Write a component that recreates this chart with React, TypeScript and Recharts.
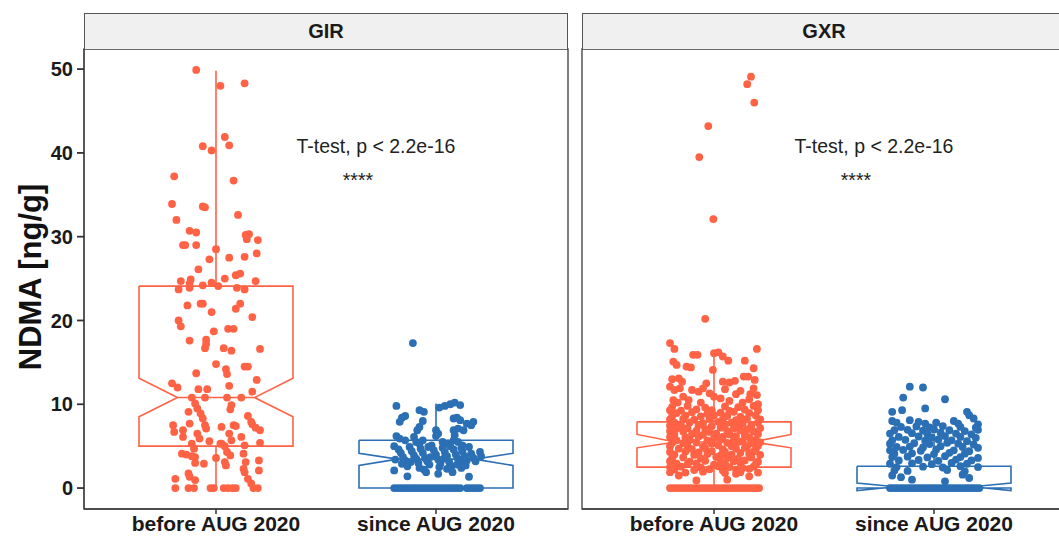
import React from 'react';
import { ComposedChart, Scatter, Line, XAxis, YAxis, ReferenceDot, ReferenceArea } from 'recharts';

const facets = ['GIR', 'GXR'];
const categories = ['before AUG 2020', 'since AUG 2020'];
const yTicks = [0, 10, 20, 30, 40, 50];
const pLabel = 'T-test, p < 2.2e-16';
const sigLabel = '****';
const yTitle = 'NDMA [ng/g]';

const ORANGE = '#FF6244';
const BLUE = '#2B6FB4';

// box stats: [whiskerLow, q1, notchLow, median, notchHigh, q3, whiskerHigh]
const girBeforeBox = [0, 5.0, 8.5, 10.8, 13.1, 24.1, 49.8];
const girSinceBox = [0, 0, 2.7, 3.45, 4.15, 5.7, 10.1];
const gxrBeforeBox = [0, 2.5, 4.8, 5.5, 6.4, 7.9, 15.9];
const gxrSinceBox = [0, 0, -0.3, 0.15, 0.6, 2.6, 6.5];

// points: [jitter offset from category centre, value]
const girBefore: number[][] = [
  [-0.09, 49.9], [0.02, 48.0], [0.13, 48.3], [0.04, 41.9], [-0.06, 40.8], [-0.02, 40.3], [0.06, 40.9],
  [-0.19, 37.2], [0.08, 36.7], [-0.2, 33.9], [-0.06, 33.6], [-0.05, 33.5], [-0.18, 32.0], [0.1, 32.6],
  [-0.12, 30.7], [-0.09, 30.5], [0.135, 30.2], [0.15, 30.3], [0.14, 29.7], [0.19, 29.6], [-0.15, 29.0],
  [-0.14, 29.0], [-0.09, 29.0], [0.0, 28.5], [0.185, 28.0], [-0.03, 27.3], [0.06, 27.5], [0.13, 27.6],
  [-0.08, 26.1], [0.09, 25.4], [0.11, 25.6], [0.04, 25.0], [-0.16, 24.7], [-0.115, 24.9], [-0.12, 24.4],
  [0.18, 24.7], [-0.17, 23.7], [-0.12, 23.9], [-0.06, 24.2], [-0.02, 24.5], [0.01, 24.1], [0.095, 23.9],
  [0.13, 23.7], [-0.07, 22.0], [-0.06, 22.0], [-0.02, 21.0], [0.09, 21.4], [0.165, 20.4], [-0.17, 20.0],
  [-0.16, 19.3], [-0.01, 18.7], [0.055, 19.0], [0.08, 19.0], [-0.12, 17.6], [-0.045, 17.7], [-0.045, 17.2],
  [-0.05, 16.7], [0.035, 16.7], [0.07, 16.4], [0.2, 16.6], [0.0, 14.8], [0.045, 14.2], [0.05, 13.6],
  [0.13, 14.5], [0.145, 14.5], [-0.09, 13.7], [0.185, 12.9], [-0.2, 12.5], [-0.175, 12.0], [-0.08, 11.8],
  [-0.04, 11.8], [0.06, 12.2], [0.165, 11.5], [-0.11, 10.8], [-0.05, 10.8], [0.05, 10.8], [0.115, 10.8],
  [-0.095, 10.1], [-0.085, 9.5], [0.07, 9.9], [0.065, 9.4], [-0.125, 9.1], [-0.07, 8.9], [-0.06, 8.3],
  [0.145, 8.6], [0.16, 7.9], [-0.12, 7.7], [-0.05, 7.5], [-0.045, 7.1], [-0.195, 7.5], [-0.19, 6.7],
  [0.025, 7.3], [0.08, 7.5], [0.09, 7.4], [0.165, 7.6], [0.18, 7.2], [0.2, 6.9], [-0.15, 6.9], [-0.15, 6.1],
  [-0.085, 6.5], [-0.075, 5.9], [0.06, 6.5], [0.07, 5.7], [0.115, 6.1], [-0.11, 5.3], [-0.1, 4.7],
  [0.02, 5.3], [0.025, 5.3], [0.04, 5.0], [0.13, 5.1], [0.2, 5.4], [-0.155, 4.1], [-0.135, 4.0],
  [-0.11, 3.8], [-0.095, 3.7], [0.05, 4.3], [0.065, 3.9], [0.125, 4.1], [0.135, 3.1], [0.195, 3.3],
  [-0.055, 2.9], [-0.095, 3.0], [0.04, 3.1], [0.045, 2.7], [0.125, 2.3], [0.13, 1.9], [0.195, 2.1],
  [-0.125, 1.75], [-0.12, 1.35], [-0.095, 0.95], [-0.185, 1.1], [0.145, 1.1], [0.16, 0.55],
  [-0.185, 0], [-0.125, 0], [-0.1, 0], [-0.025, 0], [-0.01, 0], [0.035, 0], [0.055, 0], [0.075, 0],
  [0.09, 0], [0.17, 0], [0.19, 0], [0.11, 22.0], [-0.13, 21.8], [-0.03, 5.6], [0.0, 3.6],
];

const girSince: number[][] = [
  [-0.105, 17.3], [-0.18, 9.8], [-0.075, 9.3], [-0.055, 9.1], [0.015, 9.6], [0.04, 9.8], [0.065, 10.0],
  [0.085, 10.2], [0.11, 9.9], [-0.155, 8.4], [-0.14, 8.6], [-0.165, 7.9], [-0.06, 8.0], [-0.075, 7.3],
  [-0.085, 6.9], [0.08, 8.3], [0.095, 8.4], [0.11, 8.1], [0.14, 7.7], [0.16, 7.5], [0.17, 7.9], [0.08, 6.9],
  [0.1, 7.1], [0.125, 6.9], [0.085, 6.3], [0.0, 6.9], [0.01, 6.5], [0.0, 6.2], [-0.18, 6.2], [-0.165, 5.9],
  [-0.14, 5.7], [-0.1, 6.1], [-0.09, 5.5], [-0.075, 5.3], [-0.06, 5.7], [0.03, 5.5], [0.055, 5.3],
  [0.08, 5.7], [0.1, 5.5], [0.12, 5.1], [0.115, 4.8], [0.2, 4.3], [0.205, 3.8], [-0.19, 2.1], [-0.13, 1.4],
  [-0.045, 1.9], [0.01, 1.7], [0.075, 1.9], [0.05, 2.3], [0.15, 1.35],
  [-0.19, 5.0], [-0.17, 4.6], [-0.16, 4.2], [-0.15, 3.7], [-0.14, 3.3], [-0.12, 4.9], [-0.11, 4.4],
  [-0.1, 3.9], [-0.09, 3.5], [-0.08, 3.0], [-0.07, 4.7], [-0.06, 4.2], [-0.05, 3.6], [-0.04, 3.2],
  [-0.03, 2.8], [-0.02, 5.1], [-0.01, 4.5], [0.0, 4.0], [0.01, 3.4], [0.02, 2.9], [0.03, 4.8], [0.04, 4.3],
  [0.05, 3.8], [0.06, 3.1], [0.07, 2.6], [0.08, 4.6], [0.09, 4.0], [0.1, 3.5], [0.11, 3.0], [0.12, 4.4],
  [0.13, 3.8], [0.14, 3.3], [0.15, 4.9], [0.16, 4.1], [0.17, 3.6], [0.18, 3.2], [-0.185, 3.4], [-0.13, 2.6],
  [-0.075, 2.4], [-0.035, 4.9], [0.015, 2.5], [0.065, 5.0], [0.115, 2.4], [-0.155, 2.9], [-0.025, 3.7],
  [0.035, 3.5], [0.135, 2.7], [-0.115, 3.1], [-0.055, 2.2], [0.095, 2.8],
  [-0.19, 0], [-0.175, 0], [-0.16, 0], [-0.145, 0], [-0.13, 0], [-0.115, 0], [-0.1, 0], [-0.085, 0],
  [-0.07, 0], [-0.055, 0], [-0.04, 0], [-0.025, 0], [-0.01, 0], [0.005, 0], [0.02, 0], [0.035, 0],
  [0.05, 0], [0.065, 0], [0.08, 0], [0.095, 0], [0.11, 0], [0.14, 0], [0.155, 0], [0.17, 0], [0.185, 0],
  [0.2, 0],
];

const gxrBefore: number[][] = [
  [0.168, 49.1], [0.151, 48.2], [0.183, 46.0], [-0.026, 43.2], [-0.067, 39.5], [-0.003, 32.1], [-0.04, 20.2],
  [-0.2, 17.3], [-0.18, 16.6], [-0.095, 15.9], [-0.075, 15.9], [0.0, 16.1], [0.02, 16.2], [0.04, 15.7],
  [0.065, 15.2], [0.195, 16.6], [0.14, 15.2], [-0.185, 15.1], [-0.17, 14.7], [-0.125, 14.5], [-0.105, 14.4],
  [-0.005, 14.1], [0.18, 14.3],
  [-0.19, 13.0], [-0.16, 13.1], [-0.145, 12.7], [-0.035, 12.5], [0.04, 12.7], [0.07, 12.6], [0.095, 12.8],
  [0.135, 13.3], [0.155, 13.3], [0.185, 12.9], [-0.2, 12.1], [-0.18, 11.7], [-0.155, 11.9], [-0.1, 11.7],
  [-0.07, 11.5], [-0.05, 11.9], [0.0, 10.9], [0.03, 10.7], [0.1, 11.2], [0.165, 11.2], [0.195, 11.1],
  [-0.185, 10.5], [-0.115, 10.5], [0.07, 10.4], [0.13, 10.2], [-0.14, 10.9], [0.2, 10.0], [-0.06, 10.2],
  [0.12, 11.6], [0.18, 11.9], [-0.02, 11.3], [0.05, 11.8], [-0.165, 10.2], [0.16, 10.6],
  [-0.19, 9.7], [-0.12, 9.8], [-0.04, 9.6], [0.05, 9.75], [0.11, 9.65], [0.18, 9.8],
  [-0.2, 9.3], [-0.15, 9.25], [-0.08, 9.4], [-0.01, 9.3], [0.07, 9.2], [0.14, 9.35], [0.2, 9.3],
  [-0.17, 8.95], [-0.1, 9.05], [-0.03, 8.9], [0.03, 9.0], [0.09, 9.1], [0.16, 8.95],
  [-0.19, 8.6], [-0.13, 8.65], [-0.06, 8.55], [0.0, 8.7], [0.06, 8.6], [0.12, 8.5], [0.19, 8.65],
  [-0.2, 8.2], [-0.14, 8.25], [-0.09, 8.15], [-0.02, 8.3], [0.04, 8.2], [0.1, 8.1], [0.15, 8.25], [0.21, 8.2],
  [-0.18, 7.8], [-0.11, 7.85], [-0.05, 7.75], [0.02, 7.9], [0.08, 7.8], [0.13, 7.7], [0.2, 7.85],
  [-0.2, 7.45], [-0.15, 7.55], [-0.07, 7.5], [-0.01, 7.4], [0.05, 7.55], [0.11, 7.45], [0.17, 7.5],
  [-0.17, 7.1], [-0.12, 7.15], [-0.04, 7.05], [0.03, 7.2], [0.09, 7.1], [0.15, 7.0], [0.21, 7.15],
  [-0.2, 6.8], [-0.14, 6.75], [-0.08, 6.85], [-0.02, 6.7], [0.06, 6.8], [0.12, 6.9], [0.18, 6.75],
  [-0.18, 6.4], [-0.1, 6.45], [-0.05, 6.35], [0.01, 6.5], [0.07, 6.4], [0.14, 6.3], [0.2, 6.45],
  [-0.2, 6.1], [-0.13, 6.05], [-0.07, 6.15], [0.0, 6.0], [0.04, 6.1], [0.1, 6.2], [0.16, 6.05],
  [-0.17, 5.7], [-0.11, 5.75], [-0.03, 5.65], [0.03, 5.8], [0.09, 5.7], [0.13, 5.6], [0.19, 5.75],
  [-0.19, 5.4], [-0.14, 5.35], [-0.08, 5.45], [-0.01, 5.3], [0.06, 5.4], [0.11, 5.5], [0.17, 5.35], [0.21, 5.45],
  [-0.2, 5.0], [-0.12, 5.05], [-0.05, 4.95], [0.02, 5.1], [0.08, 5.0], [0.15, 4.9], [0.2, 5.05],
  [-0.16, 4.7], [-0.1, 4.65], [-0.04, 4.75], [0.04, 4.6], [0.1, 4.7], [0.14, 4.8], [0.19, 4.65],
  [-0.2, 4.3], [-0.13, 4.35], [-0.07, 4.25], [-0.01, 4.4], [0.05, 4.3], [0.12, 4.2], [0.18, 4.35],
  [-0.18, 4.0], [-0.09, 3.95], [-0.03, 4.05], [0.03, 3.9], [0.08, 4.0], [0.16, 4.1], [0.21, 3.95],
  [-0.19, 3.6], [-0.14, 3.65], [-0.06, 3.55], [0.01, 3.7], [0.06, 3.6], [0.11, 3.5], [0.17, 3.65],
  [-0.2, 3.2], [-0.11, 3.15], [-0.04, 3.25], [0.03, 3.1], [0.09, 3.2], [0.14, 3.3], [0.2, 3.15],
  [-0.17, 2.9], [-0.12, 2.85], [-0.08, 2.95], [0.0, 2.8], [0.05, 2.9], [0.12, 3.0], [0.19, 2.85],
  [-0.2, 2.5], [-0.15, 2.55], [-0.06, 2.45], [0.02, 2.6], [0.07, 2.5], [0.13, 2.4], [0.18, 2.55],
  [-0.18, 2.2], [-0.09, 2.15], [-0.02, 2.25], [0.04, 2.1], [0.1, 2.2], [0.16, 2.3],
  [-0.2, 1.9], [-0.13, 1.85], [-0.05, 1.95], [0.05, 1.8], [0.12, 1.9], [0.2, 1.85],
  [-0.16, 1.5], [0.1, 1.7], [0.16, 1.4], [0.06, 1.0], [-0.08, 0.9],
  [-0.2, 0], [-0.185, 0], [-0.17, 0], [-0.155, 0], [-0.14, 0], [-0.125, 0], [-0.11, 0], [-0.095, 0],
  [-0.08, 0], [-0.065, 0], [-0.05, 0], [-0.035, 0], [-0.02, 0], [-0.005, 0], [0.01, 0], [0.025, 0],
  [0.04, 0], [0.055, 0], [0.07, 0], [0.085, 0], [0.1, 0], [0.115, 0], [0.13, 0], [0.145, 0], [0.16, 0],
  [0.175, 0], [0.19, 0], [0.205, 0],
];

const gxrSince: number[][] = [
  [-0.11, 12.1], [-0.05, 12.0], [-0.14, 10.8], [0.05, 10.6], [-0.19, 9.1], [-0.145, 9.3], [-0.04, 9.5],
  [0.15, 9.1], [0.16, 8.7], [0.18, 8.3],
  [-0.19, 8.0], [-0.17, 7.8], [-0.11, 8.1], [-0.07, 7.9], [-0.04, 7.7], [0.01, 7.8], [0.09, 8.0],
  [0.11, 7.7], [0.2, 7.6],
  [-0.15, 7.3], [-0.08, 7.35], [-0.02, 7.25], [0.04, 7.4], [0.12, 7.3], [0.19, 7.2],
  [-0.18, 6.9], [-0.12, 6.95], [-0.05, 6.85], [0.0, 7.0], [0.07, 6.9], [0.14, 6.8], [0.2, 6.95],
  [-0.2, 6.5], [-0.1, 6.55], [-0.03, 6.45], [0.03, 6.6], [0.1, 6.5], [0.17, 6.4],
  [-0.16, 6.1], [-0.07, 6.15], [-0.01, 6.05], [0.05, 6.2], [0.12, 6.1], [0.19, 6.0],
  [-0.19, 5.7], [-0.13, 5.75], [-0.04, 5.65], [0.02, 5.8], [0.08, 5.7], [0.15, 5.6],
  [-0.2, 5.3], [-0.09, 5.35], [-0.02, 5.25], [0.06, 5.4], [0.11, 5.3], [0.18, 5.2],
  [-0.17, 4.9], [-0.11, 4.95], [-0.05, 4.85], [0.03, 5.0], [0.13, 4.9], [0.2, 4.8],
  [-0.2, 4.5], [-0.14, 4.55], [-0.06, 4.45], [0.01, 4.6], [0.09, 4.5], [0.16, 4.4],
  [-0.18, 4.1], [-0.1, 4.15], [0.0, 4.05], [0.07, 4.2], [0.14, 4.1],
  [-0.19, 3.7], [-0.12, 3.75], [-0.03, 3.65], [0.05, 3.8], [0.12, 3.7], [0.2, 3.6],
  [-0.16, 3.3], [-0.07, 3.35], [0.02, 3.25], [0.1, 3.4], [0.17, 3.3],
  [-0.2, 2.9], [-0.1, 2.95], [-0.01, 2.85], [0.08, 3.0], [0.15, 2.9],
  [-0.17, 2.5], [-0.05, 2.55], [0.04, 2.45], [0.12, 2.6], [0.2, 2.5],
  [-0.18, 2.1], [-0.12, 2.05], [0.06, 2.15], [0.14, 2.0],
  [-0.19, 1.5], [-0.15, 1.3], [0.13, 1.6], [0.16, 1.2], [-0.1, 1.0], [0.05, 0.8],
  [-0.2, 0], [-0.186, 0], [-0.172, 0], [-0.158, 0], [-0.144, 0], [-0.13, 0], [-0.116, 0], [-0.102, 0],
  [-0.088, 0], [-0.074, 0], [-0.06, 0], [-0.046, 0], [-0.032, 0], [-0.018, 0], [-0.004, 0], [0.01, 0],
  [0.024, 0], [0.038, 0], [0.052, 0], [0.066, 0], [0.08, 0], [0.094, 0], [0.108, 0], [0.122, 0],
  [0.136, 0], [0.15, 0], [0.164, 0], [0.178, 0], [0.192, 0], [0.206, 0],
];

const X_DOMAIN: [number, number] = [0.4, 2.6];
const Y_DOMAIN: [number, number] = [-2.5, 52.4];
const FONT = "'Liberation Sans', Arial, Helvetica, sans-serif";

function toPoints(arr: number[][], cat: number) {
  return arr.map(([dx, y]) => ({ x: cat + dx, y }));
}

// notched box outline (ggplot style) built from box stats, break with nulls
function boxPath(center: number, s: number[], half = 0.35) {
  const [wl, q1, nl, med, nh, q3, wh] = s;
  const xmin = center - half;
  const xmax = center + half;
  const ind = half * 0.5;
  return [
    { x: xmin, y: q3 }, { x: xmin, y: nh }, { x: xmin + ind, y: med }, { x: xmin, y: nl },
    { x: xmin, y: q1 }, { x: xmax, y: q1 }, { x: xmax, y: nl }, { x: xmax - ind, y: med },
    { x: xmax, y: nh }, { x: xmax, y: q3 }, { x: xmin, y: q3 },
    { x: xmin, y: null },
    { x: xmin + ind, y: med }, { x: xmax - ind, y: med },
    { x: xmax, y: null },
    { x: center, y: q3 }, { x: center, y: wh },
    { x: center, y: null },
    { x: center, y: q1 }, { x: center, y: wl },
  ];
}

const dot = (color: string) => (p: any) => <circle cx={p.cx} cy={p.cy} r={3.9} fill={color} />;

function Panel(props: {
  before: number[][]; since: number[][]; beforeBox: number[]; sinceBox: number[];
  showY: boolean; width: number; marginLeft: number;
}) {
  const { before, since, beforeBox, sinceBox, showY, width, marginLeft } = props;
  return (
    <ComposedChart
      width={width}
      height={538}
      margin={{ top: 49, right: 7, bottom: 0, left: marginLeft }}
    >
      <XAxis
        type="number"
        dataKey="x"
        domain={X_DOMAIN}
        allowDataOverflow
        ticks={[1, 2]}
        tickFormatter={(v: number) => categories[Math.round(v) - 1]}
        height={29}
        tickSize={5}
        tickMargin={2}
        axisLine={{ stroke: '#444', strokeWidth: 1.3 }}
        tickLine={{ stroke: '#333', strokeWidth: 1.5 }}
        tick={{ fontSize: 21, fontWeight: 'bold', fill: '#1a1a1a' }}
      />
      <YAxis
        type="number"
        dataKey="y"
        domain={Y_DOMAIN}
        allowDataOverflow
        ticks={yTicks}
        hide={!showY}
        width={60}
        tickSize={7}
        tickMargin={4}
        axisLine={{ stroke: '#444', strokeWidth: 1.3 }}
        tickLine={{ stroke: '#333', strokeWidth: 1.8 }}
        tick={{ fontSize: 20, fontWeight: 'bold', fill: '#1a1a1a' }}
      />
      <ReferenceArea
        x1={X_DOMAIN[0]} x2={X_DOMAIN[1]} y1={Y_DOMAIN[0]} y2={Y_DOMAIN[1]}
        fill="none" stroke="#3a3a3a" strokeWidth={1.3} ifOverflow="visible"
      />
      <Line data={boxPath(1, beforeBox)} dataKey="y" stroke={ORANGE} strokeWidth={1.6}
        dot={false} activeDot={false} connectNulls={false} isAnimationActive={false} />
      <Line data={boxPath(2, sinceBox)} dataKey="y" stroke={BLUE} strokeWidth={1.6}
        dot={false} activeDot={false} connectNulls={false} isAnimationActive={false} />
      <Scatter data={toPoints(before, 1)} dataKey="y" shape={dot(ORANGE)} isAnimationActive={false} />
      <Scatter data={toPoints(since, 2)} dataKey="y" shape={dot(BLUE)} isAnimationActive={false} />
      <ReferenceDot x={1.727} y={40.85} r={1} fill="none" stroke="none" ifOverflow="visible"
        label={{ value: pLabel, position: 'center', fontSize: 19.5, fill: '#222' }} />
      <ReferenceDot x={1.645} y={36.8} r={1} fill="none" stroke="none" ifOverflow="visible"
        label={{ value: sigLabel, position: 'center', fontSize: 19.5, fill: '#222' }} />
    </ComposedChart>
  );
}

const stripStyle = (left: number): React.CSSProperties => ({
  position: 'absolute', left, top: 13, width: 484, height: 36, boxSizing: 'border-box',
  background: '#F0F0F0', border: '1px solid #555', borderBottom: 'none',
  display: 'flex', alignItems: 'center', justifyContent: 'center',
  fontWeight: 'bold', fontSize: 20, color: '#1a1a1a',
});

export default function App() {
  return (
    <div style={{ position: 'absolute', left: 0, top: 0, width: 1059, height: 538, overflow: 'hidden', background: '#fff', fontFamily: FONT }}>
      <div style={{ position: 'absolute', left: 0, top: 0 }}>
        <Panel before={girBefore} since={girSince} beforeBox={girBeforeBox} sinceBox={girSinceBox}
          showY width={575} marginLeft={24} />
      </div>
      <div style={{ position: 'absolute', left: 575, top: 0 }}>
        <Panel before={gxrBefore} since={gxrSince} beforeBox={gxrBeforeBox} sinceBox={gxrSinceBox}
          showY={false} width={498} marginLeft={7} />
      </div>
      <div style={stripStyle(84)}>{facets[0]}</div>
      <div style={stripStyle(582)}>{facets[1]}</div>
      <svg width={70} height={538} style={{ position: 'absolute', left: 0, top: 0 }}>
        <text transform="translate(41,277) rotate(-90)" textAnchor="middle" fontWeight="bold"
          fontSize={31} fill="#111" fontFamily={FONT}>{yTitle}</text>
      </svg>
    </div>
  );
}
